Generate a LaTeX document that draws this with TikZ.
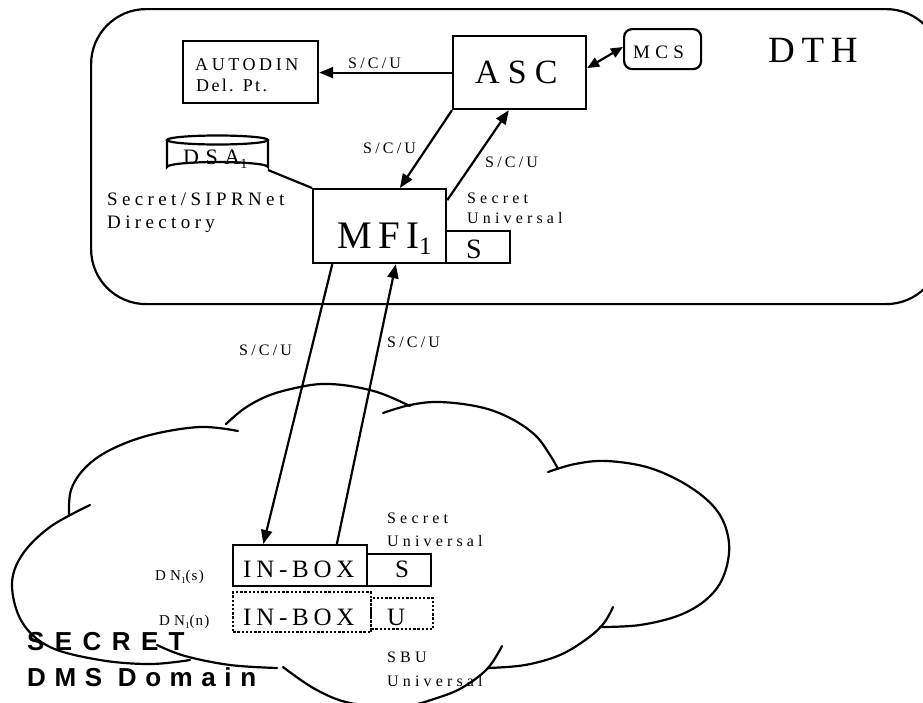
\documentclass[tikz,border=0pt]{standalone}
\usepackage{fontspec}
\setmainfont{Liberation Serif}
\newfontfamily\sansfam{Liberation Sans}
\usetikzlibrary{arrows.meta,calc}
\newcommand\txt[3]{{\fontsize{#1}{#1}\selectfont\addfontfeature{LetterSpace=#2}#3}}
\newcommand\subone[2]{\raisebox{-#2pt}{\fontsize{#1}{#1}\selectfont 1}}
\tikzset{
  lw/.style={line width=2.2pt},
  boxn/.style={draw, lw, inner sep=0, anchor=north west},
  dotbox/.style={draw, line width=2.4pt, dash pattern=on 2.4pt off 1.8pt, inner sep=0, anchor=north west},
  lbl/.style={inner sep=0, anchor=base west},
  arr/.style={lw, -{Triangle[length=14pt,width=11pt]}},
  arrb/.style={lw, {Triangle[length=12pt,width=10pt]}-{Triangle[length=12pt,width=10pt]}},
  lobe/.style={lw, line cap=round}
}
\begin{document}
\begin{tikzpicture}[x=1pt,y=-1pt]
\useasboundingbox (0,0) rectangle (923,702);
% DTH rounded area
\node[draw, lw, rounded corners=55pt, minimum width=850pt, minimum height=295pt, anchor=north west, inner sep=0] (dth) at (90,8) {};
% cloud
\draw[lobe] plot[smooth, tension=0.6] coordinates {(69,515) (71,490) (85,468) (110,450) (150,435) (200,427) (238,431)};
\draw[lobe] plot[smooth, tension=0.6] coordinates {(226,424) (245,408) (270,395) (300,387) (323,384) (350,386) (380,393) (410,406)};
\draw[lobe] plot[smooth, tension=0.6] coordinates {(383,413) (410,405) (440,402) (480,407) (510,418) (535,435) (550,455) (558,469)};
\draw[lobe] plot[smooth, tension=0.6] coordinates {(548,472) (575,464) (607,461) (650,468) (690,487) (718,512) (729,543) (724,575) (708,598) (680,615) (640,625) (600,627)};
\draw[lobe] plot[smooth, tension=0.6] coordinates {(613,607) (604,623) (588,638) (560,655) (525,665) (488,668)};
\draw[lobe] plot[smooth, tension=0.6] coordinates {(502,646) (488,668) (465,686) (440,697) (400,707) (350,703) (315,689) (283,667)};
\draw[lobe] plot[smooth, tension=0.6] coordinates {(157,645) (185,656) (230,665) (277,668)};
\draw[lobe] plot[smooth, tension=0.6] coordinates {(90,505) (50,527) (22,555) (12,585) (22,622) (50,647) (100,660) (150,664) (190,660)};
% boxes
\node[boxn, minimum width=135pt, minimum height=62pt] (autodin) at (182,40) {};
\node[boxn, minimum width=133pt, minimum height=73pt] (asc) at (452,35) {};
\node[boxn, rounded corners=8pt, minimum width=77pt, minimum height=40pt] (mcs) at (623,28) {};
\node[boxn, minimum width=133pt, minimum height=74pt] (mfi) at (312,188) {};
\node[boxn, minimum width=64pt, minimum height=32pt] (sbox) at (445,230) {};
\node[boxn, minimum width=134pt, minimum height=41pt] (inbs) at (232,544) {};
\node[boxn, minimum width=64pt, minimum height=32pt] (sbox2) at (366,553) {};
\node[dotbox, minimum width=138pt, minimum height=40pt] (inbn) at (232,591) {};
\node[dotbox, minimum width=62pt, minimum height=31pt] (ubox) at (370,597) {};
% DSA cylinder
\draw[lw] (167,140) -- (167,167) arc[start angle=180, end angle=360, x radius=50.5, y radius=5] -- (268,140);
\draw[lw] (217.5,140) ellipse[x radius=50.5, y radius=4.5];
\coordinate (dsa) at (268,170);
% connectors
\draw[arr] (asc.west) -- (asc.west -| autodin.east);
\draw[arrb] ($(asc.north east)!0.44!(asc.south east)$) -- ($(mcs.north west)!0.45!(mcs.south west)$);
\draw[arr] (asc.south west) -- ($(mfi.north west)!0.65!(mfi.north east)$);
\draw[arr] ($(mfi.north east)!0.16!(mfi.south east)$) -- ($(asc.south west)!0.42!(asc.south east)$);
\draw[lw] (dsa) -- (mfi.north west);
\draw[arr] ($(mfi.south west)!0.15!(mfi.south east)$) -- ($(inbs.north west)!0.23!(inbs.north east)$);
\draw[arr] ($(inbs.north west)!0.77!(inbs.north east)$) -- ($(mfi.south west)!0.62!(mfi.south east)$);
% texts
\node[lbl] (t1) at (195,70) {\txt{18}{20}{AUTODIN}};
\node[lbl] (t2) at (196,91) {\txt{18}{13}{Del. Pt.}};
\node[lbl] (t3) at (348,68) {\txt{16}{20}{S/C/U}};
\node[lbl] (t4) at (475,83) {\txt{34}{24}{ASC}};
\node[lbl] (t5) at (633,58) {\txt{19}{28}{MCS}};
\node[lbl] (t6) at (768,62) {\txt{37}{18}{DTH}};
\node[lbl] (t7) at (183,164) {\txt{22}{30}{DSA}\subone{14}{4}};
\node[lbl] (t8) at (107,205) {\txt{19}{23}{Secret/SIPRNet}};
\node[lbl] (t9) at (107,228) {\txt{19}{23}{Directory}};
\node[lbl] (t10) at (337,248) {\txt{39}{16}{MFI}\subone{25}{6}};
\node[lbl] (t11) at (466,258) {\txt{28}{0}{S}};
\node[lbl] (t12) at (467,203) {\txt{16}{26}{Secret}};
\node[lbl] (t13) at (467,223) {\txt{16}{26}{Universal}};
\node[lbl] (t14) at (363,153) {\txt{16}{20}{S/C/U}};
\node[lbl] (t15) at (485,167) {\txt{16}{20}{S/C/U}};
\node[lbl] (t16) at (239,355) {\txt{16}{20}{S/C/U}};
\node[lbl] (t17) at (387,347) {\txt{16}{20}{S/C/U}};
\node[lbl] (t18) at (155,580) {\txt{15}{28}{DN}\subone{9}{3}\txt{15}{8}{(s)}};
\node[lbl] (t19) at (159,625) {\txt{15}{28}{DN}\subone{9}{3}\txt{15}{8}{(n)}};
\node[lbl] (t20) at (243,577) {\txt{25}{19}{IN-BOX}};
\node[lbl] (t21) at (395,577) {\txt{25}{0}{S}};
\node[lbl] (t22) at (243,625) {\txt{25}{19}{IN-BOX}};
\node[lbl] (t23) at (387,625) {\txt{25}{0}{U}};
\node[lbl] (t24) at (387,523) {\txt{16}{26}{Secret}};
\node[lbl] (t25) at (387,546) {\txt{16}{26}{Universal}};
\node[lbl] (t26) at (387,662) {\txt{16}{26}{SBU}};
\node[lbl] (t27) at (387,686) {\txt{16}{26}{Universal}};
\node[lbl] (t28) at (27,650) {\sansfam\bfseries\txt{26}{40}{SECRET}};
\node[lbl] (t29) at (27,686) {\sansfam\bfseries\txt{26}{33}{DMS Domain}};
\end{tikzpicture}
\end{document}
